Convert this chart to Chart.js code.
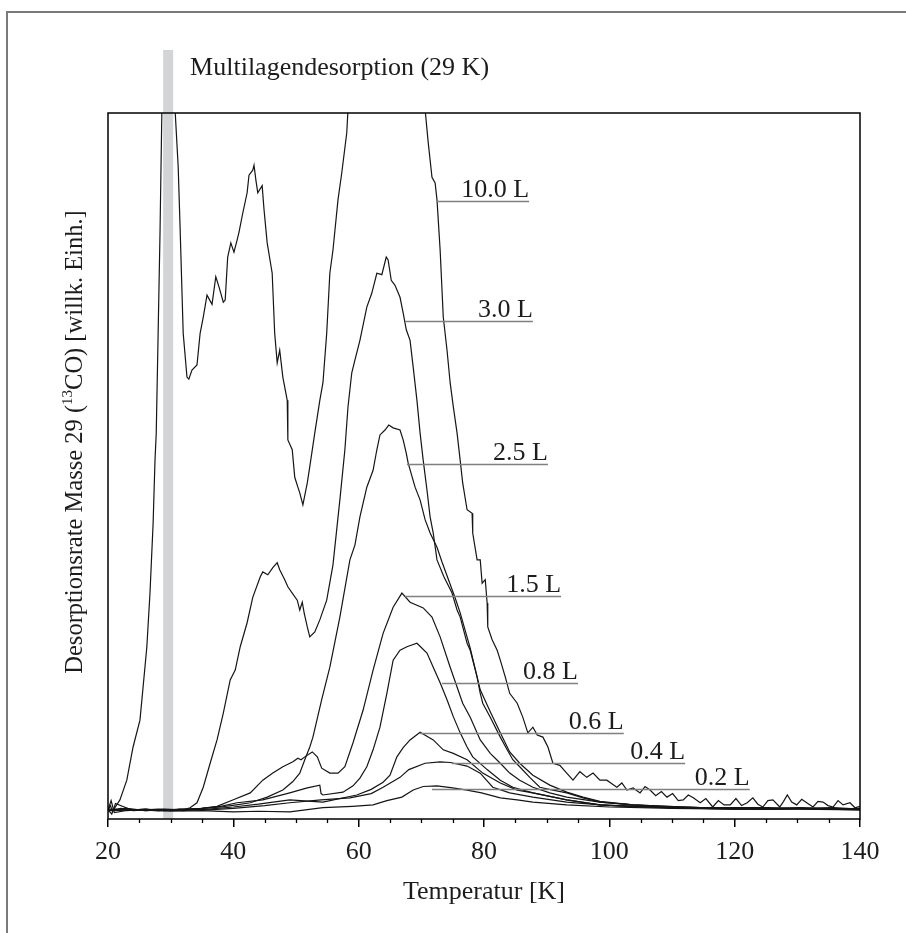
<!DOCTYPE html>
<html>
<head>
<meta charset="utf-8">
<title>TPD 13CO Masse 29</title>
<script src="https://cdn.jsdelivr.net/npm/chart.js@4.4.1/dist/chart.umd.min.js"></script>
<style>
  html, body { margin: 0; padding: 0; background: #ffffff; }
  canvas { display: block; }
</style>
</head>
<body>
<canvas id="tpd" width="906" height="933"></canvas>
<script>
// Exposures (Langmuir) of the desorption series
const exposures = ['10.0 L', '3.0 L', '2.5 L', '1.5 L', '0.8 L', '0.6 L', '0.4 L', '0.2 L'];

// Temperature [K] and desorption rate [arb. units] per exposure
const temp10 = [20.0,20.4,20.7,21.1,21.9,23.0,24.0,25.1,25.6,26.2,26.7,27.2,27.5,27.7,28.0,28.3,28.6,29.6,30.7,31.2,
  31.5,32.0,32.6,32.9,33.4,34.2,34.7,35.2,35.8,36.6,37.2,37.7,38.4,38.7,39.1,39.6,40.1,40.6,40.9,41.5,
  42.2,42.5,43.1,43.3,43.6,43.9,44.6,44.9,45.4,46.2,46.6,47.0,47.4,47.9,48.6,48.7,49.4,49.8,50.3,50.6,
  51.1,51.8,52.2,53.0,53.8,54.3,54.9,55.4,55.9,56.7,57.3,58.1,58.3,64.5,70.6,71.1,71.7,72.2,72.5,73.0,
  73.5,74.1,74.6,75.1,75.7,76.2,76.6,77.3,78.1,78.2,78.9,79.4,79.7,80.2,80.5,80.6,81.3,82.1,82.6,83.4,
  84.1,85.3,86.2,87.0,87.8,88.5,89.4,90.2,91.0,92.1,93.2,94.2,95.3,96.4,97.4,98.5,99.6,
  100.4,101.2,102.0,102.8,103.8,104.9,105.7,106.5,107.4,108.3,109.2,110.1,111.0,111.8,112.6,113.4,114.5,115.4,116.5,117.4,
  118.3,119.3,120.2,121.1,122.0,122.9,123.7,124.5,125.3,126.1,127.2,127.8,128.4,129.1,129.9,130.7,131.5,132.5,133.3,134.1,
  134.9,135.7,136.5,137.3,138.4,139.2,140.0];
const rate10 = [1.3,1.9,1.1,1.6,2.7,5.5,10.2,14.0,18.7,24.4,32.0,41.9,50.8,54.7,68.8,83.0,100.5,160,100.5,92.4,
  83.9,68.8,62.6,62.3,63.6,64.3,68.8,71.1,74.2,72.9,76.8,75.4,73.2,73.5,79.6,81.6,80.3,82.0,83.1,85.8,
  88.7,91.2,91.9,92.6,90.5,88.7,89.7,86.3,81.6,77.3,68.8,64.6,66.4,62.6,59.3,53.7,52.3,48.4,47.0,46.2,
  44.5,47.6,49.9,54.7,59.3,61.8,68.8,77.3,80.6,87.7,91.5,97.2,100.5,150,100.5,95.8,90.9,90.1,87.7,80.6,
  71.1,66.4,61.8,58.4,54.7,50.8,47.6,43.8,43.3,40.5,36.7,36.7,33.4,33.9,30.6,27.2,25.4,23.9,22.5,20.1,
  17.8,16.4,14.4,12.2,13.0,11.9,11.6,10.2,7.9,7.6,6.5,5.5,6.7,5.9,6.5,5.5,5.5,
  5.0,4.5,5.1,4.1,4.4,3.7,4.6,4.1,3.3,3.9,3.1,3.6,2.6,2.7,3.4,3.0,2.3,2.9,1.7,2.6,
  2.0,2.0,2.9,1.9,2.3,3.0,2.1,1.7,2.6,2.7,1.7,2.5,3.4,2.4,2.0,2.8,2.3,1.7,2.5,2.4,
  1.9,1.7,2.6,2.0,2.3,1.6,1.8];

const temp30 = [20.0,21.0,22.0,24.0,26.0,28.0,30.0,31.5,32.0,33.1,34.2,35.2,36.3,37.4,38.4,39.5,40.3,41.1,42.2,43.1,
  44.3,44.7,45.5,46.3,47.0,47.4,48.2,48.7,49.4,50.2,50.6,51.0,51.3,51.8,52.2,53.0,53.8,54.9,55.9,57.0,
  57.8,58.3,58.9,59.4,60.2,61.3,62.1,62.9,63.7,64.4,64.7,65.2,65.8,66.6,67.1,67.6,68.2,68.7,69.3,69.8,
  70.3,70.9,71.4,71.9,72.5,73.6,74.9,75.7,76.2,77.3,77.8,78.9,79.4,79.8,81.0,82.6,83.7,84.6,85.7,87.3,
  88.9,91.0,93.2,95.8,98.5,103.8,109.2,114.5,119.7,125.2,130.4,135.7,140.0];
const rate30 = [1.4,1.2,1.5,1.3,1.4,1.2,1.3,1.4,1.3,1.6,2.3,4.5,7.9,11.2,15.0,19.7,21.1,24.4,27.8,31.4,
  34.3,35.0,34.6,35.6,36.3,35.3,33.9,32.9,32.0,31.0,29.6,30.7,29.2,27.2,25.8,26.5,28.2,31.0,36.0,45.2,
  52.3,58.4,63.2,65.0,67.8,72.5,74.5,77.3,77.1,79.6,79.2,76.3,75.6,73.9,71.7,69.3,67.8,64.0,59.3,54.7,
  50.8,46.6,42.8,40.5,36.7,34.3,32.0,29.6,28.6,24.9,23.9,20.1,17.8,16.4,14.4,11.6,9.8,8.4,7.4,5.9,
  4.5,4.1,3.7,3.0,2.4,2.0,1.7,1.6,1.6,1.4,1.6,1.4,1.4];

const temp25 = [20.0,23.0,26.0,29.0,32.0,35.0,38.0,40.5,42.7,45.4,47.9,49.5,50.6,51.4,52.2,52.7,54.1,55.4,57.0,58.6,
  59.4,60.2,61.3,62.3,62.9,63.4,64.2,64.8,65.5,66.6,67.1,67.6,67.9,69.0,69.8,70.6,71.4,72.5,73.3,75.4,
  76.2,77.8,79.4,81.0,82.6,84.1,85.7,87.8,90.5,93.2,95.8,98.5,103.8,109.2,114.5,125.2,135.7,140.0];
const rate25 = [1.2,1.4,1.2,1.3,1.3,1.5,1.7,2.0,2.3,3.1,4.1,5.3,6.5,8.4,10.2,11.6,16.9,21.5,28.6,36.7,
  38.8,42.8,47.0,49.4,52.3,54.4,55.1,55.8,55.4,55.1,53.7,51.8,50.4,47.0,45.2,42.4,40.5,38.5,36.4,31.3,
  29.2,24.2,18.3,15.2,12.2,9.5,7.9,6.2,4.8,3.8,3.1,2.5,2.0,1.8,1.6,1.6,1.4,1.5];

const temp15 = [20.0,20.5,21.0,23.0,26.0,29.0,32.0,35.0,37.4,39.9,42.7,44.7,46.3,47.9,49.5,50.3,50.8,51.4,52.6,53.4,
  54.1,55.4,56.7,57.8,59.1,60.7,62.3,63.9,65.5,66.9,68.2,70.3,71.7,73.0,74.6,75.7,76.6,77.8,79.4,81.0,
  82.6,84.1,85.7,87.8,90.5,93.2,98.5,103.8,109.2,114.5,125.2,135.7,140.0];
const rate15 = [1.3,2.6,0.9,1.2,1.4,1.2,1.4,1.5,1.8,2.7,3.7,5.5,6.5,7.4,8.1,8.6,8.4,8.8,9.5,8.8,
  7.2,6.5,6.5,7.4,10.8,15.4,21.1,26.3,30.0,32.0,30.7,29.9,28.6,25.8,21.5,18.7,16.4,14.4,11.2,9.3,
  7.9,6.5,5.5,4.5,3.7,3.1,2.4,2.0,1.8,1.6,1.4,1.6,1.4];

const temp08 = [20.0,23.0,26.0,29.0,32.0,35.0,38.0,40.6,44.7,49.0,51.8,53.8,54.0,54.3,57.5,59.1,60.2,61.3,62.3,63.4,
  64.5,65.5,66.6,67.7,69.3,70.9,71.9,73.0,74.1,75.1,76.2,77.3,78.2,80.5,82.6,84.6,87.8,93.2,98.5,103.8,
  109.2,114.5,125.0,135.0,140.0];
const rate08 = [1.3,1.5,1.2,1.4,1.3,1.5,1.8,2.3,2.7,3.7,4.4,4.8,3.6,3.4,3.8,4.7,5.8,7.4,9.8,13.0,
  17.8,22.5,23.9,24.4,24.9,23.5,21.5,19.3,16.9,14.5,12.2,10.2,8.8,7.0,5.5,4.5,3.7,2.7,2.0,1.8,
  1.6,1.5,1.4,1.5,1.4];

const temp06 = [20.0,20.6,21.2,24.0,28.0,32.0,36.0,40.0,44.0,49.0,54.3,59.7,62.0,63.9,65.0,66.1,67.1,68.2,69.8,71.9,
  73.5,75.1,77.3,79.8,82.6,85.3,87.8,93.2,98.5,104.0,110.0,120.0,130.0,140.0];
const rate06 = [1.3,0.7,2.2,1.2,1.4,1.2,1.4,1.7,2.1,2.7,2.4,3.4,4.2,5.2,6.2,8.8,10.1,11.2,12.3,11.2,
  9.8,9.3,8.4,6.5,5.1,4.1,3.7,2.7,2.0,1.8,1.6,1.5,1.5,1.4];

const temp04 = [20.0,24.0,28.0,32.0,36.0,40.0,45.0,49.0,54.0,58.6,62.0,63.9,66.6,68.0,70.6,73.0,74.6,77.3,79.4,81.4,
  84.1,87.8,93.2,100.0,110.0,120.0,130.0,140.0];
const rate04 = [1.4,1.3,1.2,1.4,1.3,1.5,1.9,2.3,2.7,3.0,3.6,4.5,5.9,7.0,7.9,8.1,8.0,7.5,6.5,4.5,
  3.7,3.1,2.4,1.9,1.6,1.4,1.5,1.3];

const temp02 = [20.0,25.0,30.0,35.0,40.0,44.0,49.0,54.3,59.0,62.3,64.5,66.9,68.7,70.3,72.5,75.0,77.3,79.6,82.6,85.3,
  87.8,93.2,100.0,110.0,120.0,130.0,140.0];
const rate02 = [1.2,1.3,1.1,1.2,1.0,1.1,1.0,1.6,1.8,2.0,2.6,3.1,4.1,4.6,4.7,4.4,4.1,3.7,3.0,2.7,
  2.4,2.0,1.7,1.5,1.4,1.4,1.3];

// Axis tick values (K)
const xTicks = [20, 40, 60, 80, 100, 120, 140];

const temps = [temp10, temp30, temp25, temp15, temp08, temp06, temp04, temp02];
const rates = [rate10, rate30, rate25, rate15, rate08, rate06, rate04, rate02];

const SERIF = "'Liberation Serif', 'Times New Roman', Times, serif";
const INK = '#1c1c1c';

const datasets = exposures.map((name, k) => ({
  label: name,
  data: temps[k].map((t, i) => ({ x: t, y: rates[k][i] })),
  borderColor: '#151515',
  borderWidth: 1.2,
  pointRadius: 0,
  tension: 0,
  fill: false
}));

// Band, callouts, frame, minor ticks and rotated y title
const tpdDecorations = {
  id: 'tpdDecorations',
  beforeDraw(chart) {
    const { ctx, width, height } = chart;
    ctx.save();
    ctx.fillStyle = '#ffffff';
    ctx.fillRect(0, 0, width, height);
    ctx.strokeStyle = '#7a7a7a';
    ctx.lineWidth = 2;
    ctx.beginPath();
    ctx.moveTo(7, height);
    ctx.lineTo(7, 12);
    ctx.lineTo(width, 12);
    ctx.stroke();
    ctx.restore();
  },
  beforeDatasetsDraw(chart, args, opts) {
    const { ctx, chartArea, scales: { x } } = chart;
    const x0 = x.getPixelForValue(opts.band.from);
    const x1 = x.getPixelForValue(opts.band.to);
    const top = chartArea.top - opts.band.rise;
    ctx.save();
    ctx.fillStyle = '#d3d4d6';
    ctx.fillRect(x0, top, x1 - x0, chartArea.bottom - top);
    ctx.restore();
  },
  afterDatasetsDraw(chart, args, opts) {
    const { ctx, chartArea, scales: { x, y } } = chart;
    ctx.save();
    // plot frame
    ctx.strokeStyle = '#000000';
    ctx.lineWidth = 1.5;
    ctx.strokeRect(chartArea.left, chartArea.top, chartArea.right - chartArea.left, chartArea.bottom - chartArea.top);
    // minor ticks every 5 K
    ctx.lineWidth = 1.3;
    ctx.beginPath();
    for (let t = 25; t < 140; t += 5) {
      if (t % 20 === 0) continue;
      const px = Math.round(x.getPixelForValue(t)) + 0.5;
      ctx.moveTo(px, chartArea.bottom);
      ctx.lineTo(px, chartArea.bottom + 4);
    }
    ctx.stroke();
    // exposure callouts
    const c = opts.callouts;
    ctx.font = '26px ' + SERIF;
    ctx.fillStyle = INK;
    ctx.textAlign = 'right';
    ctx.textBaseline = 'alphabetic';
    c.text.forEach((label, i) => {
      const xa = x.getPixelForValue(c.from[i]);
      const xb = x.getPixelForValue(c.to[i]);
      const yy = Math.round(y.getPixelForValue(c.level[i])) + 0.5;
      ctx.strokeStyle = '#808080';
      ctx.lineWidth = 1.5;
      ctx.beginPath();
      ctx.moveTo(xa, yy);
      ctx.lineTo(xb, yy);
      ctx.stroke();
      ctx.fillText(label, xb, yy - 5);
    });
    // band caption
    ctx.textAlign = 'left';
    ctx.fillText(opts.caption.text, x.getPixelForValue(opts.caption.at), chartArea.top - 38);
    // y title with superscript mass number
    const parts = [
      ['Desorptionsrate Masse 29 (', '24.5px ' + SERIF, 0],
      ['13', '15px ' + SERIF, -10],
      ['CO) [willk. Einh.]', '24.5px ' + SERIF, 0]
    ];
    let total = 0;
    const widths = parts.map(p => { ctx.font = p[1]; const w = ctx.measureText(p[0]).width; total += w; return w; });
    ctx.translate(chartArea.left - 26, (chartArea.top + chartArea.bottom) / 2 - 24);
    ctx.rotate(-Math.PI / 2);
    let cx = -total / 2;
    parts.forEach((p, i) => {
      ctx.font = p[1];
      ctx.fillText(p[0], cx, p[2]);
      cx += widths[i];
    });
    ctx.restore();
  }
};

new Chart(document.getElementById('tpd'), {
  type: 'line',
  data: { datasets },
  plugins: [tpdDecorations],
  options: {
    responsive: false,
    animation: false,
    devicePixelRatio: 1,
    parsing: true,
    layout: { padding: { top: 113, right: 46, left: 0, bottom: 0 } },
    plugins: {
      legend: { display: false },
      tooltip: { enabled: false },
      tpdDecorations: {
        band: { from: 28.8, to: 30.4, rise: 63 },
        caption: { text: 'Multilagendesorption (29 K)', at: 33.1 },
        callouts: {
          text: exposures,
          from:  [72.5, 67.4, 67.7, 67.4, 73.3, 69.8, 74.9, 71.7],
          to:    [87.2, 87.8, 90.2, 92.3, 95.0, 102.3, 112.1, 122.4],
          level: [87.5, 70.5, 50.3, 31.6, 19.3, 12.2, 7.9, 4.25]
        }
      }
    },
    scales: {
      x: {
        type: 'linear',
        min: 20,
        max: 140,
        afterBuildTicks(scale) { scale.ticks = xTicks.map(v => ({ value: v })); },
        ticks: { color: INK, font: { family: SERIF, size: 26 }, padding: 10, maxRotation: 0, autoSkip: false },
        grid: { drawOnChartArea: false, drawTicks: true, tickLength: 8, color: '#000000', lineWidth: 1.5 },
        border: { display: false },
        title: {
          display: true,
          text: 'Temperatur [K]',
          color: INK,
          font: { family: SERIF, size: 26 },
          padding: { top: 0, bottom: 25 }
        },
        afterFit(scale) { scale.height = 114; }
      },
      y: {
        min: 0,
        max: 100,
        ticks: { display: false },
        grid: { display: false },
        border: { display: false },
        afterFit(scale) { scale.width = 108; }
      }
    }
  }
});
</script>
</body>
</html>
